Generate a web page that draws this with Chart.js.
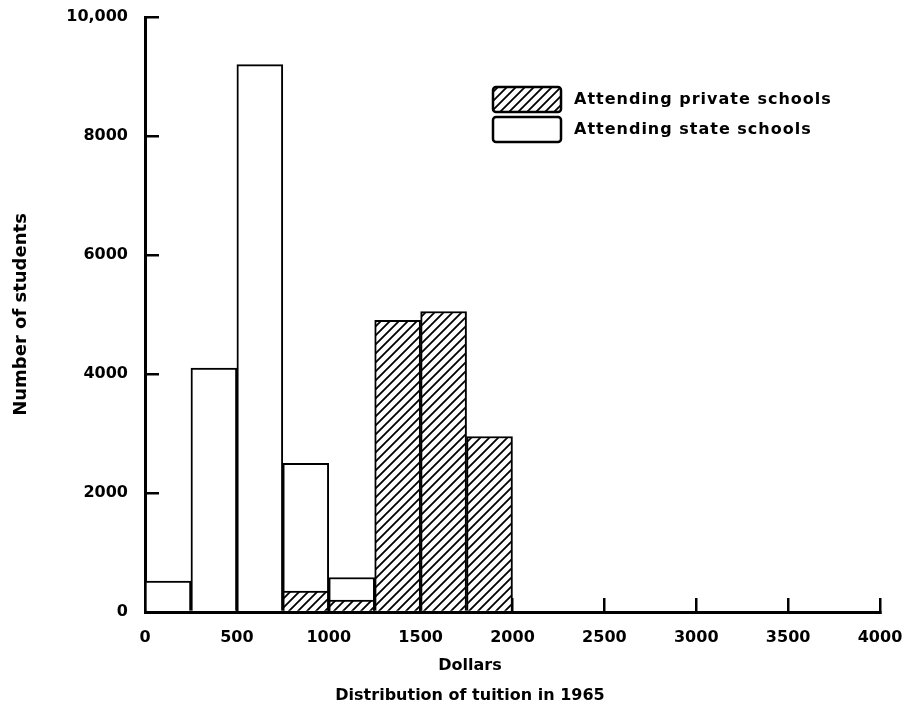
<!DOCTYPE html>
<html>
<head>
<meta charset="utf-8">
<script src="https://cdn.jsdelivr.net/npm/chart.js@4.4.1/dist/chart.umd.min.js"></script>
<style>
  html, body { margin: 0; padding: 0; background: #fff; }
</style>
</head>
<body>
<canvas id="tuitionChart" width="912" height="718"></canvas>
<script>
// data (bins are $250 wide, values = bin centres)
let stateBins = [125, 375, 625, 875, 1125];
let stateCounts = [520, 4100, 9200, 2500, 580];
let privateBins = [875, 1125, 1375, 1625, 1875];
let privateCounts = [350, 200, 4900, 5050, 2950];

let seriesNames = ["Attending private schools", "Attending state schools"];
let yTickLabels = ["0", "2000", "4000", "6000", "8000", "10,000"];
let xTickLabels = ["0", "500", "1000", "1500", "2000", "2500", "3000", "3500", "4000"];

let font = "DejaVu Sans";
let canvas = document.querySelector("#tuitionChart");
let ctx = canvas.getContext("2d");

// diagonal hatch for private schools
function makeHatch() {
  let c = document.createElement("canvas");
  c.width = 9;
  c.height = 9;
  let g = c.getContext("2d");
  g.fillStyle = "#fff";
  g.fillRect(0, 0, 9, 9);
  g.strokeStyle = "#000";
  g.lineWidth = 1.8;
  g.beginPath();
  g.moveTo(-1, 10);
  g.lineTo(10, -1);
  g.moveTo(-1, 1);
  g.lineTo(1, -1);
  g.moveTo(8, 10);
  g.lineTo(10, 8);
  g.stroke();
  return ctx.createPattern(c, "repeat");
}
let hatch = makeHatch();

// legend drawn inside the plot, top right
let legendBox = {
  id: "legendBox",
  afterDraw(chart) {
    let c = chart.ctx;
    let items = [
      { fill: hatch, text: seriesNames[0], y: 87 },
      { fill: "#fff", text: seriesNames[1], y: 117 },
    ];
    c.save();
    items.forEach((it) => {
      c.beginPath();
      c.roundRect(493, it.y, 68, 25, 3);
      c.fillStyle = it.fill;
      c.fill();
      c.lineWidth = 2.5;
      c.strokeStyle = "#000";
      c.stroke();
      c.fillStyle = "#000";
      c.font = "bold 16px '" + font + "'";
      c.letterSpacing = "1px";
      c.textBaseline = "middle";
      c.fillText(it.text, 574, it.y + 13);
    });
    c.restore();
  },
};

new Chart(ctx, {
  type: "bar",
  data: {
    datasets: [
      {
        label: seriesNames[0],
        data: privateBins.map((x, i) => ({ x: x, y: privateCounts[i] })),
        backgroundColor: hatch,
        borderColor: "#000",
        borderWidth: 2,
      },
      {
        label: seriesNames[1],
        data: stateBins.map((x, i) => ({ x: x, y: stateCounts[i] })),
        backgroundColor: "#fff",
        borderColor: "#000",
        borderWidth: 2,
      },
    ],
  },
  options: {
    responsive: false,
    animation: false,
    grouped: false,
    barPercentage: 1,
    categoryPercentage: 1,
    // left padding is wide so the bottom titles sit where they do in the original
    layout: { padding: { left: 60, right: 32, top: 17, bottom: 5 } },
    plugins: {
      legend: { display: false },
      tooltip: { enabled: false },
      title: {
        display: true,
        position: "bottom",
        text: ["Dollars", "Distribution of tuition in 1965"],
        color: "#000",
        font: { family: font, size: 16, weight: "bold", lineHeight: "30px" },
        padding: { top: 3, bottom: 2 },
      },
    },
    scales: {
      x: {
        type: "linear",
        offset: false,
        min: 0,
        max: 4000,
        afterFit: (s) => {
          s.height = 36;
          s.paddingLeft = 0;
          s.paddingRight = 0;
        },
        ticks: {
          stepSize: 500,
          padding: 30,
          color: "#000",
          font: { family: font, size: 16, weight: "bold" },
          maxRotation: 0,
          callback: (v, i) => xTickLabels[i],
        },
        grid: { offset: false, drawOnChartArea: false, tickLength: -14, color: "#000", lineWidth: 2.5 },
        border: { color: "#000", width: 3 },
      },
      y: {
        min: 0,
        max: 10000,
        afterFit: (s) => {
          s.width = 85;
          s.paddingTop = 0;
          s.paddingBottom = 0;
        },
        ticks: {
          stepSize: 2000,
          padding: 31,
          color: "#000",
          font: { family: font, size: 16, weight: "bold" },
          callback: (v, i) => yTickLabels[i],
        },
        grid: { drawOnChartArea: false, tickLength: -14, color: "#000", lineWidth: 2.5 },
        border: { color: "#000", width: 3 },
        title: {
          display: true,
          text: "Number of students",
          color: "#000",
          font: { family: font, size: 18, weight: "bold" },
          padding: { top: -49, bottom: 0 },
        },
      },
    },
  },
  plugins: [legendBox],
});
</script>
</body>
</html>
